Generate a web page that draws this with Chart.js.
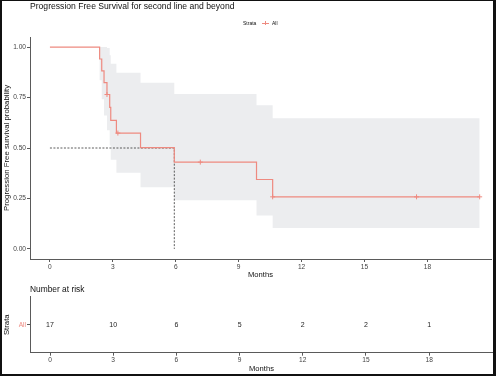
<!DOCTYPE html>
<html>
<head>
<meta charset="utf-8">
<script src="https://cdn.jsdelivr.net/npm/chart.js@4.4.0/dist/chart.umd.min.js"></script>
<style>
  body { margin: 0; background: #fff; }
  #frame { position: relative; width: 496px; height: 376px; overflow: hidden; font-family: 'Liberation Sans', Arial, sans-serif; }
  #frame canvas { position: absolute; left: 0; }
  #border { position: absolute; left: 0; top: 0; width: 496px; height: 376px; box-sizing: border-box; border-style: solid; border-color: #111; border-width: 1px 3px 2px 2px; pointer-events: none; }
  .txt { position: absolute; white-space: nowrap; color: #111; line-height: 1; }
  #legLine { position: absolute; left: 262px; top: 22.5px; width: 7px; height: 1px; background: #EE8A80; }
  #legTick { position: absolute; left: 265px; top: 21px; width: 1px; height: 4px; background: #EE8A80; }
</style>
</head>
<body>
<div id="frame">
  <canvas id="kmChart" width="496" height="279" style="top:0"></canvas>
  <canvas id="riskChart" width="496" height="97" style="top:279px"></canvas>
  <div class="txt" style="left:30px; top:2.2px; font-size:8.6px;">Progression Free Survival for second line and beyond</div>
  <div class="txt" style="left:243px; top:20.5px; font-size:5px;">Strata</div>
  <div id="legLine"></div><div id="legTick"></div>
  <div class="txt" style="left:272px; top:20.5px; font-size:5px;">All</div>
  <div class="txt" style="left:30px; top:285px; font-size:8.4px;">Number at risk</div>
  <div id="border"></div>
</div>
<script>
// Kaplan-Meier steps
const kmTimes = [0, 2.37, 2.47, 2.58, 2.72, 2.85, 2.90, 3.17, 4.32, 5.93, 9.85, 10.62, 20.49];
const kmSurv  = [1, 0.941, 0.882, 0.824, 0.765, 0.701, 0.637, 0.574, 0.502, 0.430, 0.344, 0.258, 0.258];
const kmUpper = [1, 1, 1, 1, 0.996, 0.960, 0.918, 0.873, 0.823, 0.768, 0.712, 0.648, 0.648];
const kmLower = [1, 0.836, 0.742, 0.661, 0.588, 0.512, 0.442, 0.377, 0.306, 0.241, 0.166, 0.103, 0.103];

// censored observations
const censorTimes = [2.72, 3.24, 7.17, 10.62, 17.48, 20.49];
const censorSurv  = [0.765, 0.574, 0.430, 0.258, 0.258, 0.258];

// median survival guide
const medianX = [0, 5.93, 5.93];
const medianY = [0.5, 0.5, 0];

// number at risk table
const riskStrata = ['All'];
const riskTimes  = [0, 3, 6, 9, 12, 15, 18];
const riskCounts = [17, 10, 6, 5, 2, 2, 1];

const xTicks = [0, 3, 6, 9, 12, 15, 18];
const yTicks = [0, 0.25, 0.5, 0.75, 1];

const lineColor = '#EE8A80';
const axisColor = '#5a5a5a';

Chart.defaults.font.family = "'Liberation Sans', Arial, sans-serif";
Chart.defaults.color = '#444';

const pts = (xs, ys) => xs.map((x, i) => ({ x: x, y: ys[i] }));

const xAxis = (height) => ({
    type: 'linear',
    min: -0.95,
    max: 21.03,
    afterBuildTicks: s => { s.ticks = xTicks.map(v => ({ value: v })); },
    afterFit: s => { s.height = height; },
    ticks: { font: { size: 6.6 }, padding: 1, maxRotation: 0, autoSkip: false },
    grid: { drawOnChartArea: false, tickLength: 3, color: axisColor },
    border: { color: axisColor },
    title: { display: true, text: 'Months', font: { size: 7.6 }, color: '#111', padding: 0 }
});

// Survival curve
new Chart(document.getElementById('kmChart').getContext('2d'), {
    type: 'line',
    data: {
        datasets: [{
            data: pts(kmTimes, kmUpper),
            stepped: 'before',
            fill: '+1',
            backgroundColor: '#ECEDEF',
            borderWidth: 0,
            pointRadius: 0
        }, {
            data: pts(kmTimes, kmLower),
            stepped: 'before',
            fill: false,
            borderWidth: 0,
            pointRadius: 0
        }, {
            data: pts(medianX, medianY),
            borderColor: '#333',
            borderWidth: 0.8,
            borderDash: [2, 1.5],
            pointRadius: 0,
            fill: false
        }, {
            data: pts(kmTimes, kmSurv),
            stepped: 'before',
            borderColor: lineColor,
            borderWidth: 1.2,
            pointRadius: 0,
            fill: false,
            order: -1
        }, {
            data: pts(censorTimes, censorSurv),
            showLine: false,
            pointStyle: 'cross',
            pointRadius: 2.5,
            borderColor: lineColor,
            borderWidth: 1,
            order: -2
        }]
    },
    options: {
        responsive: false,
        animation: false,
        layout: { padding: { top: 37, right: 3, left: 0, bottom: 0 } },
        plugins: {
            legend: { display: false },
            tooltip: { enabled: false },
            filler: { drawTime: 'beforeDatasetsDraw' }
        },
        scales: {
            x: xAxis(20),
            y: {
                min: -0.05,
                max: 1.05,
                afterBuildTicks: s => { s.ticks = yTicks.map(v => ({ value: v })); },
                afterFit: s => { s.width = 30; },
                ticks: { font: { size: 6.6 }, padding: 1, callback: v => v.toFixed(2) },
                grid: { drawOnChartArea: false, tickLength: 3, color: axisColor },
                border: { color: axisColor },
                title: { display: true, text: 'Progression Free survival probability', font: { size: 7.8 }, color: '#111', padding: { top: 2.2, bottom: 0 } }
            }
        }
    }
});

// Number at risk
const riskLabels = {
    id: 'riskLabels',
    afterDatasetsDraw(chart) {
        const ctx = chart.ctx;
        const meta = chart.getDatasetMeta(0);
        ctx.save();
        ctx.font = "7px 'Liberation Sans', Arial, sans-serif";
        ctx.fillStyle = '#222';
        ctx.textAlign = 'center';
        ctx.textBaseline = 'middle';
        meta.data.forEach((pt, i) => ctx.fillText(String(riskCounts[i]), pt.x, pt.y));
        ctx.restore();
    }
};

new Chart(document.getElementById('riskChart').getContext('2d'), {
    type: 'line',
    data: {
        datasets: [{
            data: riskTimes.map(t => ({ x: t, y: riskStrata[0] })),
            showLine: false,
            pointRadius: 0
        }]
    },
    options: {
        responsive: false,
        animation: false,
        layout: { padding: { top: 17.7, right: 3, left: 0, bottom: 2.5 } },
        plugins: { legend: { display: false }, tooltip: { enabled: false } },
        scales: {
            x: xAxis(20.8),
            y: {
                type: 'category',
                labels: riskStrata,
                offset: true,
                afterFit: s => { s.width = 30; },
                ticks: { font: { size: 6.6 }, padding: 1, color: lineColor },
                grid: { drawOnChartArea: false, tickLength: 3, color: axisColor, offset: false },
                border: { color: axisColor },
                title: { display: true, text: 'Strata', font: { size: 7.8 }, color: '#111', padding: { top: 2.2, bottom: 0 } }
            }
        }
    },
    plugins: [riskLabels]
});
</script>
</body>
</html>
